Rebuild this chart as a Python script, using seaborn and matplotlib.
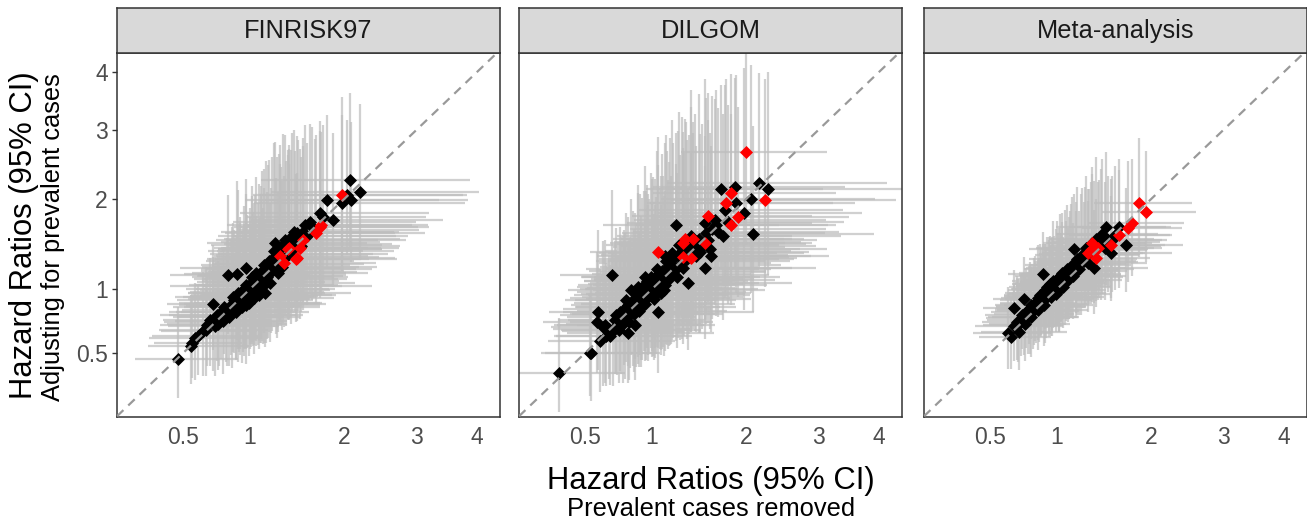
import numpy as np
import pandas as pd
import seaborn as sns
import matplotlib.pyplot as plt

# hazard ratios: x = prevalent cases removed, y = adjusting for prevalent cases
# sx / sy = standard errors of log(HR), used for the 95% CI bars

# ---- FINRISK97 ----
fin_x = [0.47, 0.55, 0.56, 0.60, 0.63, 0.66, 0.68, 0.70, 0.70, 0.72, 0.73, 0.75, 0.76, 0.78, 0.79, 0.80,
         0.82, 0.83, 0.84, 0.85, 0.87, 0.88, 0.89, 0.90, 0.90, 0.91, 0.92, 0.93, 0.94, 0.95, 0.96, 0.97,
         0.97, 0.98, 0.99, 1.00, 1.01, 1.02, 1.03, 1.04, 1.05, 1.06, 1.07, 1.08, 1.09, 1.10, 1.11, 1.12,
         1.13, 1.14, 1.15, 1.16, 1.18, 1.20, 1.22, 1.23, 1.25, 1.26, 1.27, 1.29, 1.31, 1.33, 1.36, 1.38,
         1.41, 1.43, 1.44, 1.47, 1.50, 1.54, 1.57, 1.62, 1.71, 1.79, 1.86, 1.98, 2.04, 2.07, 2.09, 2.20,
         0.58, 0.65, 0.74, 0.81, 0.86, 0.88, 0.92, 0.95, 0.97, 1.00, 1.02, 1.04, 1.06, 1.08, 1.10, 1.13,
         1.17, 1.19, 1.21, 1.24, 1.28, 1.30, 1.34, 1.37, 1.40, 1.46, 1.52, 1.60, 1.66, 1.75]
fin_y = [0.46, 0.55, 0.57, 0.62, 0.65, 0.70, 0.74, 0.72, 0.87, 0.69, 0.78, 0.76, 0.80, 0.73, 0.84, 0.78,
         1.14, 0.76, 0.86, 0.82, 0.90, 0.85, 1.15, 0.93, 0.97, 0.88, 0.97, 0.84, 0.91, 1.00, 0.94, 1.21,
         0.86, 0.98, 0.88, 1.03, 0.95, 1.07, 1.00, 0.92, 1.10, 0.99, 1.04, 1.13, 1.00, 1.08, 1.18, 1.03,
         1.24, 0.97, 1.20, 1.12, 1.28, 1.17, 1.38, 1.47, 1.25, 1.16, 1.35, 1.30, 1.45, 1.50, 1.40, 1.35,
         1.55, 1.60, 1.46, 1.52, 1.44, 1.68, 1.55, 1.66, 1.82, 1.99, 1.74, 1.95, 2.06, 2.26, 1.99, 2.10,
         0.60, 0.66, 0.71, 0.80, 0.93, 0.80, 0.91, 0.87, 1.04, 0.97, 1.12, 1.04, 1.16, 0.95, 1.14, 1.10,
         1.22, 1.06, 1.30, 1.20, 1.42, 1.22, 1.32, 1.48, 1.38, 1.58, 1.60, 1.72, 1.62, 1.78]
fin_sx = [0.33, 0.30, 0.26, 0.31, 0.27, 0.30, 0.29, 0.30, 0.28, 0.29, 0.35, 0.27, 0.31, 0.28, 0.30, 0.33,
          0.34, 0.30, 0.29, 0.28, 0.32, 0.27, 0.29, 0.30, 0.27, 0.33, 0.28, 0.31, 0.27, 0.31, 0.29, 0.36,
          0.29, 0.30, 0.28, 0.44, 0.31, 0.28, 0.29, 0.30, 0.31, 0.28, 0.30, 0.31, 0.28, 0.29, 0.30, 0.29,
          0.31, 0.31, 0.32, 0.29, 0.30, 0.30, 0.31, 0.32, 0.30, 0.31, 0.32, 0.30, 0.33, 0.31, 0.31, 0.32,
          0.33, 0.32, 0.31, 0.32, 0.31, 0.33, 0.31, 0.32, 0.32, 0.32, 0.31, 0.33, 0.32, 0.32, 0.31, 0.31,
          0.32, 0.30, 0.31, 0.29, 0.33, 0.30, 0.28, 0.32, 0.30, 0.29, 0.31, 0.30, 0.33, 0.29, 0.31, 0.30,
          0.32, 0.30, 0.31, 0.33, 0.30, 0.32, 0.31, 0.30, 0.33, 0.31, 0.30, 0.32, 0.31, 0.30]
fin_sy = [0.31, 0.28, 0.25, 0.27, 0.30, 0.26, 0.29, 0.31, 0.26, 0.33, 0.28, 0.30, 0.28, 0.34, 0.27, 0.29,
          0.30, 0.30, 0.29, 0.36, 0.30, 0.31, 0.34, 0.29, 0.40, 0.28, 0.31, 0.33, 0.30, 0.33, 0.29, 0.32,
          0.35, 0.31, 0.31, 0.31, 0.29, 0.33, 0.31, 0.32, 0.32, 0.30, 0.32, 0.34, 0.29, 0.33, 0.36, 0.31,
          0.34, 0.30, 0.38, 0.32, 0.35, 0.31, 0.36, 0.33, 0.37, 0.30, 0.34, 0.32, 0.36, 0.34, 0.32, 0.31,
          0.33, 0.32, 0.31, 0.32, 0.30, 0.31, 0.30, 0.31, 0.28, 0.25, 0.27, 0.26, 0.22, 0.24, 0.23, 0.25,
          0.29, 0.31, 0.30, 0.33, 0.31, 0.29, 0.32, 0.30, 0.35, 0.31, 0.34, 0.32, 0.35, 0.30, 0.33, 0.34,
          0.36, 0.31, 0.35, 0.33, 0.34, 0.31, 0.33, 0.32, 0.34, 0.31, 0.30, 0.30, 0.29, 0.28]
fin_red_x = [1.28, 1.32, 1.36, 1.38, 1.45, 1.46, 1.49, 1.52, 1.67, 1.71, 1.73, 1.97]
fin_red_y = [1.33, 1.26, 1.41, 1.42, 1.30, 1.31, 1.42, 1.50, 1.59, 1.66, 1.68, 2.05]
fin_red_sx = [0.30, 0.31, 0.31, 0.30, 0.32, 0.31, 0.31, 0.32, 0.32, 0.32, 0.31, 0.33]
fin_red_sy = [0.32, 0.31, 0.33, 0.33, 0.30, 0.30, 0.33, 0.31, 0.31, 0.30, 0.29, 0.28]

# ---- DILGOM ----
dil_x = [0.35, 0.53, 0.54, 0.585, 0.574, 0.618, 0.64, 0.66, 0.678, 0.69, 0.70, 0.72, 0.74, 0.75, 0.77, 0.78,
         0.80, 0.80, 0.82, 0.83, 0.84, 0.857, 0.86, 0.87, 0.88, 0.89, 0.90, 0.91, 0.92, 0.93, 0.94, 0.95,
         0.96, 0.97, 0.98, 0.99, 1.00, 1.01, 1.02, 1.03, 1.04, 1.057, 1.06, 1.07, 1.08, 1.09, 1.10, 1.117,
         1.12, 1.14, 1.15, 1.17, 1.18, 1.20, 1.22, 1.228, 1.24, 1.26, 1.28, 1.30, 1.32, 1.344, 1.35, 1.38,
         1.40, 1.43, 1.46, 1.49, 1.519, 1.53, 1.56, 1.592, 1.60, 1.63, 1.67, 1.705, 1.743, 1.78, 1.86, 1.88,
         1.98, 2.06, 2.086, 2.17, 2.28,
         0.60, 0.63, 0.67, 0.71, 0.73, 0.76, 0.79, 0.81, 0.85, 0.88, 0.91, 0.94, 0.97, 1.00, 1.03, 1.05,
         1.08, 1.11, 1.13, 1.16, 1.19, 1.23, 1.25, 1.29, 1.33, 1.37, 1.42, 1.47, 1.52, 1.58, 1.65, 1.72]
dil_y = [0.38, 0.50, 0.50, 0.80, 0.72, 0.68, 0.62, 0.67, 1.136, 0.65, 0.74, 0.70, 0.80, 0.76, 0.83, 0.74,
         0.64, 0.86, 0.79, 0.99, 0.88, 0.70, 0.92, 0.84, 0.95, 0.81, 1.00, 0.90, 0.96, 1.04, 0.87, 0.98,
         1.08, 0.93, 1.01, 1.12, 0.96, 1.05, 0.91, 1.10, 1.00, 0.80, 1.15, 1.06, 0.97, 1.18, 1.12, 1.33,
         1.04, 1.22, 1.09, 1.26, 1.14, 1.30, 1.20, 1.677, 1.34, 1.24, 1.38, 1.28, 1.43, 1.055, 1.36, 1.48,
         1.40, 1.33, 1.52, 1.44, 1.21, 1.58, 1.50, 1.33, 1.63, 1.74, 1.60, 2.13, 1.86, 1.72, 2.16, 1.95,
         1.82, 2.00, 1.57, 2.21, 2.13,
         0.58, 0.70, 0.62, 0.78, 0.66, 0.71, 0.90, 0.72, 0.79, 1.02, 0.84, 1.12, 1.00, 1.08, 0.95, 1.20,
         1.10, 0.99, 1.28, 1.17, 1.36, 1.12, 1.45, 1.21, 1.30, 1.55, 1.46, 1.37, 1.70, 1.40, 1.68, 1.55]
dil_sx = [0.41, 0.36, 0.33, 0.34, 0.38, 0.35, 0.33, 0.37, 0.33, 0.32, 0.36, 0.38, 0.35, 0.33, 0.37, 0.34,
          0.36, 0.33, 0.35, 0.37, 0.34, 0.33, 0.38, 0.34, 0.36, 0.35, 0.33, 0.37, 0.34, 0.36, 0.35, 0.38,
          0.34, 0.36, 0.33, 0.37, 0.35, 0.34, 0.36, 0.33, 0.37, 0.35, 0.34, 0.36, 0.33, 0.37, 0.35, 0.34,
          0.36, 0.33, 0.37, 0.35, 0.34, 0.36, 0.33, 0.35, 0.37, 0.34, 0.36, 0.35, 0.33, 0.34, 0.37, 0.35,
          0.34, 0.36, 0.33, 0.35, 0.34, 0.36, 0.33, 0.35, 0.34, 0.33, 0.35, 0.30, 0.34, 0.33, 0.31, 0.33,
          0.32, 0.33, 0.32, 0.33, 0.35,
          0.36, 0.34, 0.37, 0.35, 0.36, 0.34, 0.37, 0.35, 0.36, 0.34, 0.37, 0.35, 0.34, 0.36, 0.35, 0.37,
          0.34, 0.36, 0.35, 0.34, 0.36, 0.35, 0.34, 0.36, 0.35, 0.33, 0.35, 0.34, 0.33, 0.35, 0.33, 0.34]
dil_sy = [0.35, 0.33, 0.38, 0.36, 0.33, 0.40, 0.36, 0.34, 0.32, 0.38, 0.35, 0.33, 0.37, 0.36, 0.34, 0.39,
          0.35, 0.37, 0.34, 0.36, 0.38, 0.37, 0.35, 0.36, 0.40, 0.34, 0.37, 0.35, 0.38, 0.36, 0.34, 0.39,
          0.36, 0.37, 0.35, 0.38, 0.36, 0.40, 0.35, 0.37, 0.36, 0.38, 0.39, 0.36, 0.35, 0.41, 0.37, 0.38,
          0.36, 0.40, 0.37, 0.42, 0.36, 0.39, 0.37, 0.29, 0.41, 0.38, 0.43, 0.37, 0.40, 0.36, 0.39, 0.42,
          0.38, 0.37, 0.44, 0.39, 0.36, 0.41, 0.38, 0.37, 0.40, 0.36, 0.38, 0.29, 0.36, 0.35, 0.30, 0.36,
          0.41, 0.37, 0.34, 0.30, 0.32,
          0.37, 0.39, 0.35, 0.38, 0.36, 0.40, 0.36, 0.38, 0.37, 0.39, 0.36, 0.40, 0.37, 0.38, 0.36, 0.41,
          0.38, 0.37, 0.42, 0.39, 0.43, 0.38, 0.42, 0.39, 0.40, 0.44, 0.41, 0.39, 0.42, 0.38, 0.40, 0.38]
dil_red_x = [1.056, 1.294, 1.294, 1.31, 1.378, 1.395, 1.52, 1.555, 1.755, 1.82, 1.82, 1.90, 1.995, 2.25]
dil_red_y = [1.375, 1.32, 1.467, 1.513, 1.305, 1.513, 1.467, 1.79, 1.946, 2.077, 1.678, 1.77, 2.66, 1.99]
dil_red_sx = [0.35, 0.35, 0.34, 0.33, 0.34, 0.32, 0.33, 0.32, 0.31, 0.30, 0.30, 0.31, 0.23, 0.33]
dil_red_sy = [0.38, 0.37, 0.36, 0.38, 0.36, 0.37, 0.35, 0.36, 0.35, 0.33, 0.34, 0.33, 0.31, 0.34]

# ---- Meta-analysis ----
meta_x = [0.615, 0.64, 0.66, 0.662, 0.68, 0.698, 0.71, 0.72, 0.735, 0.74, 0.75, 0.76, 0.77, 0.786, 0.79, 0.80,
          0.82, 0.83, 0.84, 0.85, 0.86, 0.87, 0.879, 0.88, 0.89, 0.90, 0.91, 0.92, 0.93, 0.94, 0.95, 0.96,
          0.97, 0.98, 0.99, 1.00, 1.01, 1.02, 1.03, 1.04, 1.05, 1.06, 1.08, 1.09, 1.10, 1.12, 1.14, 1.15,
          1.16, 1.175, 1.19, 1.21, 1.23, 1.25, 1.27, 1.30, 1.33, 1.356, 1.38, 1.41, 1.44, 1.477, 1.50, 1.532,
          1.58, 1.62, 1.70,
          0.69, 0.73, 0.78, 0.81, 0.84, 0.87, 0.90, 0.93, 0.96, 0.99, 1.02, 1.05, 1.07, 1.11, 1.13, 1.18,
          1.22, 1.26, 1.29, 1.35, 1.43, 1.47, 1.55]
meta_y = [0.64, 0.61, 0.69, 0.833, 0.72, 0.648, 0.74, 0.78, 0.91, 0.71, 0.80, 0.76, 0.83, 0.76, 0.86, 0.81,
          0.88, 0.84, 0.92, 0.87, 0.95, 0.90, 1.145, 0.97, 0.86, 0.99, 0.93, 1.02, 0.96, 1.05, 0.933, 1.00,
          1.08, 1.03, 0.96, 1.10, 1.05, 0.99, 1.13, 1.07, 1.16, 1.02, 1.12, 1.20, 1.09, 1.18, 1.24, 1.13,
          1.40, 1.25, 1.30, 1.20, 1.34, 1.28, 1.42, 1.36, 1.47, 1.21, 1.52, 1.44, 1.57, 1.658, 1.50, 1.357,
          1.56, 1.66, 1.449,
          0.70, 0.75, 0.79, 0.85, 0.82, 0.94, 0.91, 1.00, 0.97, 1.06, 1.03, 1.09, 1.14, 1.15, 1.21, 1.18,
          1.27, 1.35, 1.26, 1.40, 1.48, 1.42, 1.50]
meta_sx = [0.22, 0.20, 0.24, 0.19, 0.21, 0.23, 0.20, 0.22, 0.18, 0.21, 0.20, 0.23, 0.19, 0.22, 0.20, 0.21,
           0.19, 0.22, 0.20, 0.21, 0.19, 0.22, 0.18, 0.20, 0.21, 0.19, 0.22, 0.20, 0.21, 0.19, 0.22, 0.20,
           0.21, 0.19, 0.22, 0.20, 0.21, 0.19, 0.22, 0.20, 0.21, 0.19, 0.22, 0.20, 0.21, 0.19, 0.22, 0.20,
           0.21, 0.19, 0.22, 0.20, 0.21, 0.19, 0.22, 0.20, 0.21, 0.19, 0.20, 0.21, 0.19, 0.20, 0.18, 0.20,
           0.18, 0.17, 0.18,
           0.21, 0.22, 0.20, 0.21, 0.22, 0.20, 0.21, 0.19, 0.22, 0.20, 0.21, 0.19, 0.22, 0.20, 0.21, 0.19,
           0.21, 0.20, 0.21, 0.19, 0.20, 0.19, 0.18]
meta_sy = [0.24, 0.21, 0.22, 0.18, 0.23, 0.25, 0.22, 0.20, 0.19, 0.23, 0.21, 0.22, 0.20, 0.24, 0.19, 0.22,
           0.21, 0.20, 0.23, 0.21, 0.22, 0.20, 0.17, 0.21, 0.23, 0.20, 0.22, 0.21, 0.23, 0.20, 0.21, 0.22,
           0.24, 0.21, 0.20, 0.23, 0.21, 0.22, 0.24, 0.20, 0.23, 0.21, 0.22, 0.24, 0.21, 0.23, 0.25, 0.21,
           0.20, 0.23, 0.26, 0.22, 0.24, 0.22, 0.25, 0.23, 0.26, 0.22, 0.27, 0.23, 0.25, 0.24, 0.22, 0.21,
           0.23, 0.22, 0.20,
           0.23, 0.22, 0.24, 0.22, 0.23, 0.21, 0.24, 0.22, 0.23, 0.22, 0.24, 0.23, 0.25, 0.22, 0.24, 0.23,
           0.25, 0.24, 0.23, 0.24, 0.25, 0.23, 0.22]
meta_red_x = [1.289, 1.322, 1.339, 1.373, 1.40, 1.532, 1.623, 1.72, 1.776, 1.855, 1.935]
meta_red_y = [1.357, 1.393, 1.467, 1.305, 1.42, 1.449, 1.56, 1.64, 1.698, 1.946, 1.84]
meta_red_sx = [0.20, 0.20, 0.19, 0.19, 0.19, 0.18, 0.17, 0.17, 0.16, 0.16, 0.15]
meta_red_sy = [0.23, 0.24, 0.24, 0.22, 0.23, 0.23, 0.22, 0.22, 0.21, 0.20, 0.19]

panels = [
    ("FINRISK97", fin_x, fin_y, fin_sx, fin_sy, fin_red_x, fin_red_y, fin_red_sx, fin_red_sy),
    ("DILGOM", dil_x, dil_y, dil_sx, dil_sy, dil_red_x, dil_red_y, dil_red_sx, dil_red_sy),
    ("Meta-analysis", meta_x, meta_y, meta_sx, meta_sy, meta_red_x, meta_red_y, meta_red_sx, meta_red_sy),
]

tick_vals = [0.5, 1, 2, 3, 4]
tick_labels = ["0.5", "1", "2", "3", "4"]

sns.set_theme(style="white")
plt.rcParams["font.family"] = ["Liberation Sans", "DejaVu Sans"]

W, H = 1307, 522
fig = plt.figure(figsize=(W / 100, H / 100), dpi=100)

# panel pixel boxes (left edges); top/bottom shared
lefts = [117, 519, 924]
pw = 383
top, bottom = 53.3, 416.7
strip_top = 8.3


def ci(v, se):
    v = np.asarray(v)
    se = np.asarray(se)
    return v * np.exp(-1.96 * se), v * np.exp(1.96 * se)


for (name, x, y, sx, sy, rx, ry, rsx, rsy), left in zip(panels, lefts):
    ax = fig.add_axes([left / W, 1 - bottom / H, pw / W, (bottom - top) / H])
    ax.set_xscale("function", functions=(np.sqrt, np.square))
    ax.set_yscale("function", functions=(np.sqrt, np.square))

    df = pd.DataFrame({"x": x + rx, "y": y + ry, "sx": sx + rsx, "sy": sy + rsy})
    df["x_lo"], df["x_hi"] = ci(df["x"], df["sx"])
    df["y_lo"], df["y_hi"] = ci(df["y"], df["sy"])

    # 95% CI bars
    ax.hlines(df["y"], df["x_lo"], df["x_hi"], color="#BEBEBE", alpha=0.72, lw=1.6, zorder=1)
    ax.vlines(df["x"], df["y_lo"], df["y_hi"], color="#BEBEBE", alpha=0.72, lw=1.6, zorder=1)

    sns.scatterplot(x=x, y=y, ax=ax, color="black", marker="D", s=44, linewidth=0, zorder=3)
    sns.scatterplot(x=rx, y=ry, ax=ax, color="red", marker="D", s=44, linewidth=0, zorder=4)

    ax.axline((1, 1), (2, 2), color="#999999", ls=(0, (4, 3)), lw=1.6, zorder=5)

    ax.set_xlim(0.1736, 4.41)
    ax.set_ylim(0.1718, 4.347)
    ax.set_xticks(tick_vals)
    ax.set_xticklabels(tick_labels)
    ax.set_yticks(tick_vals)
    if left == lefts[0]:
        ax.set_yticklabels(tick_labels)
        ax.tick_params(axis="y", left=True, labelleft=True)
    else:
        ax.tick_params(axis="y", left=False, labelleft=False)
    ax.minorticks_off()
    ax.tick_params(axis="both", direction="out", length=3.5, width=1, color="#333333",
                   labelcolor="#4D4D4D", labelsize=16.5, pad=3)
    ax.set_xlabel("")
    ax.set_ylabel("")
    for sp in ax.spines.values():
        sp.set_color("#333333")
        sp.set_linewidth(1.1)

    # facet strip
    sax = fig.add_axes([left / W, 1 - top / H, pw / W, (top - strip_top) / H])
    sax.set_facecolor("#D9D9D9")
    sax.set_xticks([])
    sax.set_yticks([])
    for sp in sax.spines.values():
        sp.set_color("#333333")
        sp.set_linewidth(1.1)
    sax.text(0.5, 0.5, name, ha="center", va="center", fontsize=18.3, color="#1A1A1A",
             transform=sax.transAxes)

# axis titles
fig.text(24 / W, 1 - 235 / H, "Hazard Ratios (95% CI)", rotation=90, ha="center", va="center",
         fontsize=22.3, color="black")
fig.text(53 / W, 1 - 237 / H, "Adjusting for prevalent cases", rotation=90, ha="center", va="center",
         fontsize=18.4, color="black")
fig.text(711 / W, 1 - 481 / H, "Hazard Ratios (95% CI)", ha="center", va="center",
         fontsize=22.3, color="black")
fig.text(711 / W, 1 - 509 / H, "Prevalent cases removed", ha="center", va="center",
         fontsize=18.4, color="black")

fig.savefig("out.png", dpi=100)
